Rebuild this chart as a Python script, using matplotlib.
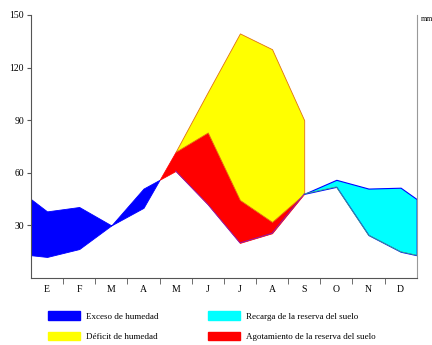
import matplotlib.pyplot as plt
import matplotlib.patches as mpatches
import numpy as np

# Data (mm)
months = ['E', 'F', 'M', 'A', 'M', 'J', 'J', 'A', 'S', 'O', 'N', 'D']
precip = [38, 40.5, 30, 51, 61, 42, 20, 25.5, 48, 56, 51, 51.5]
etp = [12, 16.5, 30, 40, 72, 106, 139.5, 130.5, 90, 52, 24.5, 15]
etr = [12, 16.5, 30, 40, 72, 83, 44.5, 32, 48, 52, 24.5, 15]
# values where the curves cross the Dec/Jan edge of the chart
precip_edge = 45
etp_edge = 13

legend_labels = ['Exceso de humedad', 'Déficit de humedad',
                 'Recarga de la reserva del suelo', 'Agotamiento de la reserva del suelo']

BLUE, YELLOW, CYAN, RED = '#0000ff', '#ffff00', '#00ffff', '#ff0000'
serif = 'Liberation Serif'

x = np.concatenate([[0], np.arange(12) + 0.5, [12]])
P = np.array([precip_edge] + precip + [precip_edge])
E = np.array([etp_edge] + etp + [etp_edge])
R = np.array([etp_edge] + etr + [etp_edge])

fig = plt.figure(figsize=(4.32, 3.45), dpi=100)
ax = fig.add_axes([31 / 432, 1 - 278 / 345, 385.7 / 432, 263 / 345])

# surplus (Jan - Apr)
ax.fill_between(x[:6], P[:6], E[:6], where=P[:6] >= E[:6], interpolate=True,
                color=BLUE, lw=0.6)
# soil reserve use (Apr - Sep)
ax.fill_between(x[4:10], R[4:10], P[4:10], where=R[4:10] >= P[4:10], interpolate=True,
                facecolor=RED, edgecolor=RED, lw=0.5)
# deficit (May - Sep)
ax.fill_between(x[5:10], E[5:10], R[5:10], facecolor=YELLOW, edgecolor='#e07010', lw=0.6)
# recharge (Sep - Dec)
ax.fill_between(x[9:], P[9:], np.minimum(E[9:], P[9:]), facecolor=CYAN,
                edgecolor=BLUE, lw=0.8)
ax.plot(x[9:], np.minimum(E[9:], P[9:]), color='#40b080', lw=0.6)
ax.plot(x[5:10], P[5:10], color='#8020c0', lw=0.6)

ax.set_xlim(0, 12)
ax.set_ylim(0, 150)
ax.set_yticks([30, 60, 90, 120, 150])
ax.set_yticklabels(['30', '60', '90', '120', '150'], fontsize=7, family=serif)
ax.set_xticks(np.arange(12) + 0.5)
ax.set_xticklabels(months, fontsize=7, family=serif)
ax.set_xticks(np.arange(1, 12), minor=True)
ax.tick_params(axis='x', which='major', length=0, pad=5)
ax.tick_params(axis='x', which='minor', length=4, color='#555555')
ax.tick_params(axis='y', length=3, color='#555555', pad=2)
ax.spines['top'].set_visible(False)
for s in ['left', 'bottom']:
    ax.spines[s].set_color('#555555')
ax.spines['right'].set_color('#999999')

ax.text(1.01, 0.985, 'mm', transform=ax.transAxes, fontsize=5.5, family=serif,
        ha='left', va='center')

# legend at the bottom
handles = [mpatches.Patch(color=c) for c in [BLUE, YELLOW, CYAN, RED]]
leg = fig.legend(handles, legend_labels, ncol=2, loc='lower left',
                 bbox_to_anchor=(40 / 432, -0.012), frameon=False,
                 prop={'family': serif, 'size': 6.5},
                 handlelength=3.5, handleheight=1.1, columnspacing=5.5,
                 labelspacing=1.2, handletextpad=0.67)

plt.savefig('out.png', dpi=100)
plt.close()
